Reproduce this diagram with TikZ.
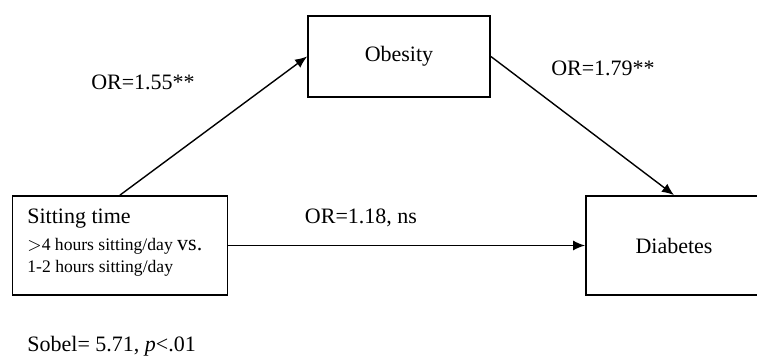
\documentclass[tikz,border=0pt]{standalone}
\usepackage{fontspec}
\setmainfont{Liberation Serif}
\usetikzlibrary{arrows.meta}
\tikzset{
  box/.style={draw, line width=0.9pt, rectangle, inner sep=0pt},
  path/.style={line width=0.7pt, -{Latex[length=6pt,width=5pt]}},
  lbl/.style={inner sep=0pt}
}
\newcommand{\mainsize}{\fontsize{11}{13.5}\selectfont}
\newcommand{\smallsize}{\fontsize{8.8}{11}\selectfont}
\begin{document}
\begin{tikzpicture}[x=0.5pt, y=-0.5pt, font=\mainsize]
  \useasboundingbox (0,0) rectangle (757,357);
  \clip (0,0) rectangle (757,357);
  \draw
    (120,245.5) node[box, minimum width=107.5pt, minimum height=49.5pt] (sitting){}
    (399,56.5) node[box, minimum width=91pt, minimum height=40.5pt] (obesity){Obesity}
    (674,245.5) node[box, minimum width=88pt, minimum height=49.5pt] (diabetes){Diabetes};
  \node[lbl, anchor=west, align=left] (exposure) at (27,243)
    {Sitting time\\{\smallsize $>$4 hours sitting/day }vs.\\[-2.5pt]{\smallsize 1-2 hours sitting/day}};
  \begin{scope}[path]
    \draw (sitting.north) to (obesity.west);
    \draw (obesity.east) to (diabetes.north);
    \draw (sitting.east) to (diabetes.west);
  \end{scope}
  \node[lbl] (a) at (143,82) {OR=1.55**};
  \node[lbl] (b) at (603,68) {OR=1.79**};
  \node[lbl] (c) at (361,218) {OR=1.18, ns};
  \node[lbl, anchor=west] (sobel) at (27,346) {Sobel= 5.71, \textit{p}<.01};
\end{tikzpicture}
\end{document}
